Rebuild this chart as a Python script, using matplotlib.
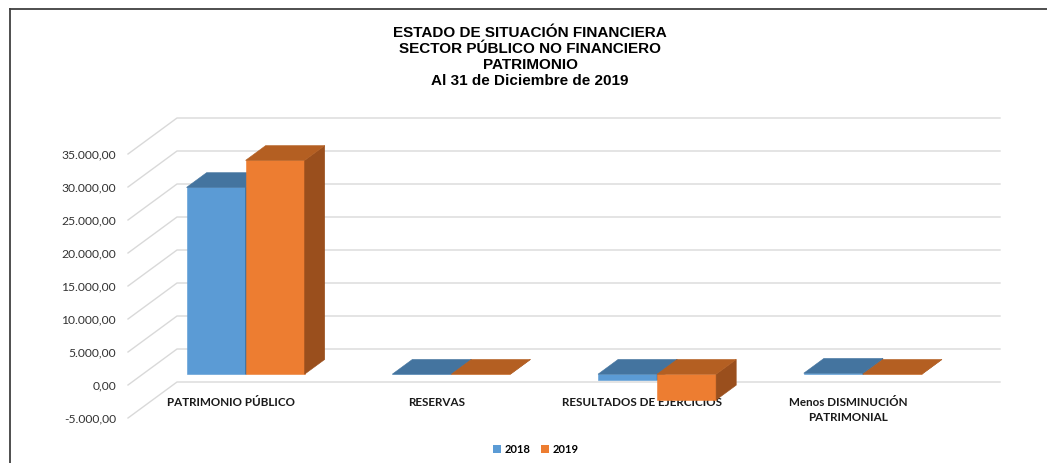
import matplotlib.pyplot as plt
from matplotlib.patches import Polygon, Patch
from matplotlib.lines import Line2D

# datos del grafico
categorias = ['PATRIMONIO PÚBLICO', 'RESERVAS', 'RESULTADOS DE EJERCICIOS',
              'Menos DISMINUCIÓN\nPATRIMONIAL']
valores_2018 = [28300, 0, -900, 150]
valores_2019 = [32400, 0, -3900, 0]
anios = ['2018', '2019']
ticks_y = [-5000, 0, 5000, 10000, 15000, 20000, 25000, 30000, 35000]
titulo = ['ESTADO DE SITUACIÓN FINANCIERA',
          'SECTOR PÚBLICO NO FINANCIERO',
          'PATRIMONIO',
          'Al 31 de Diciembre de 2019']

W, H = 1047, 464
fig = plt.figure(figsize=(W / 100, H / 100), dpi=100)
ax = fig.add_axes([128 / W, (H - 419) / H, 823 / W, 264 / H])
ax.set_xlim(-0.5, 3.5)
ax.set_ylim(-5000, 35000)
ax.axis('off')

# profundidad (proyeccion oblicua) en unidades de datos
px_x = 4.0 / 823
px_y = 40000 / 264
DX = 49 * px_x
DY = 36 * px_y


def p(x, v, d):
    return (x + d * DX, v + d * DY)


def fmt(v):
    s = '{:,.2f}'.format(v)
    return s.replace(',', 'X').replace('.', ',').replace('X', '.')


# rejilla: diagonal en el suelo + linea en la pared del fondo
for v in ticks_y:
    pts = [p(-0.5, v, 0), p(-0.5, v, 1), p(3.5, v, 1)]
    ax.plot([q[0] for q in pts], [q[1] for q in pts], color='#d9d9d9',
            lw=1, clip_on=False, zorder=1)
    ax.text(-0.5 - 12 * px_x, v, fmt(v), ha='right', va='center',
            fontsize=8.7, family='Lato', color='#333333')

# etiquetas de categorias (debajo de las barras)
for i, c in enumerate(categorias):
    ax.text(i, -11 * px_y, c, ha='center', va='top', fontsize=8.4,
            family='Lato', fontweight='bold', color='#1a1a1a',
            linespacing=1.4, zorder=2)

colores = {
    '2018': ('#5b9bd5', '#44749f', '#3d6a93'),
    '2019': ('#ed7d31', '#b45f22', '#9a4f1d'),
}
w = 0.287
f0, f1 = 0.30, 0.71
z = 3
for i in range(len(categorias)):
    for k, (anio, vals) in enumerate(zip(anios, [valores_2018, valores_2019])):
        v = vals[i]
        x0 = i - w + k * w
        x1 = x0 + w
        lo, hi = min(0, v), max(0, v)
        cf, ct, cs = colores[anio]
        caras = [
            ([p(x0, lo, f0), p(x1, lo, f0), p(x1, hi, f0), p(x0, hi, f0)], cf),
            ([p(x1, lo, f0), p(x1, lo, f1), p(x1, hi, f1), p(x1, hi, f0)], cs),
            ([p(x0, hi, f0), p(x1, hi, f0), p(x1, hi, f1), p(x0, hi, f1)], ct),
        ]
        for pts, col in caras:
            ax.add_patch(Polygon(pts, closed=True, facecolor=col,
                                 edgecolor=col, lw=0.4, clip_on=False,
                                 zorder=z))
        z += 1

# titulo
for j, t in enumerate(titulo):
    fig.text(530 / W, 1 - (33 + 16 * j) / H, t, ha='center', va='center',
             fontsize=11, family='Liberation Sans', fontweight='bold',
             color='black')

# leyenda
handles = [Patch(facecolor=colores[a][0], edgecolor='none', label=a)
           for a in anios]
fig.legend(handles=handles, loc='center', bbox_to_anchor=(536 / W, 1 - 450 / H),
           ncol=2, frameon=False, handlelength=0.7, handleheight=0.7,
           handletextpad=0.35, columnspacing=0.9,
           prop={'family': 'Lato', 'weight': 'bold', 'size': 8})

# borde del area del grafico
fig.add_artist(Line2D([10 / W, 1], [1 - 10 / H, 1 - 10 / H],
                      transform=fig.transFigure, color='#404040', lw=1.3))
fig.add_artist(Line2D([10 / W, 10 / W], [1 - 10 / H, 0],
                      transform=fig.transFigure, color='#404040', lw=1.3))

fig.savefig('out.png', dpi=100)
